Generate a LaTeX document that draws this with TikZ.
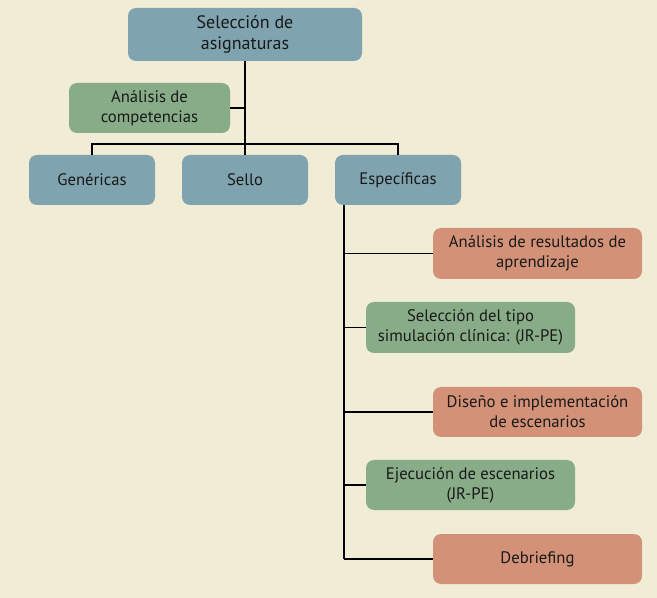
\documentclass[tikz,border=0pt]{standalone}
\usepackage{fontspec}
\setmainfont{PT Sans}
\usetikzlibrary{positioning}
\definecolor{fondo}{HTML}{F1ECD5}
\definecolor{azul}{HTML}{7FA3AF}
\definecolor{verde}{HTML}{88AC87}
\definecolor{salmon}{HTML}{D39277}
\tikzset{
    caja/.style = {rectangle, rounded corners=6pt, draw=none, align=center, inner sep=0pt,
                   text=black!90, font=\fontsize{12.5}{15}\selectfont},
    tam/.style 2 args = {minimum width=#1*0.75pt, minimum height=#2*0.75pt},
    cajaa/.style = {caja, fill=azul},
    cajav/.style = {caja, fill=verde},
    cajas/.style = {caja, fill=salmon},
    linea/.style = {-,line width=0.8pt,black},
}
\begin{document}
\begin{tikzpicture}[x=0.75pt,y=-0.75pt]
%
\fill[fondo] (0,0) rectangle (657,598);
\useasboundingbox (0,0) rectangle (657,598);
%
\node[cajaa, tam={234}{53}, font=\fontsize{13.5}{16}\selectfont] at (245,34.5) (sel) {Selección de\\asignaturas};
\node[cajav, tam={161}{50}] at (149.5,108) (comp) {Análisis de\\competencias};
\node[cajaa, tam={126}{50}] at (92,180) (gen) {Genéricas};
\node[cajaa, tam={126}{50}] at (245,180) (sello) {Sello};
\node[cajaa, tam={126}{50}] at (398,180) (esp) {Específicas};
\node[cajas, tam={209}{51}] at (537.5,253.5) (res) {Análisis de resultados de\\aprendizaje};
\node[cajav, tam={209}{51}] at (470.5,327.5) (tipo) {Selección del tipo\\simulación clínica: (JR-PE)};
\node[cajas, tam={209}{50}] at (537.5,412) (dis) {Diseño e implementación\\de escenarios};
\node[cajav, tam={209}{50}] at (470.5,485) (eje) {Ejecución de escenarios\\(JR-PE)};
\node[cajas, tam={209}{50}] at (537.5,559) (deb) {Debriefing};
\coordinate (bus) at (245,144);
\coordinate (eje0) at (344,559);
%
\draw[linea] (sel) -- (sello);
\draw[linea] (comp.east) -- (comp.east -| sel.south);
\draw[linea] (gen) |- (bus) -| (esp);
\draw[linea] (esp.south -| eje0) -- (eje0);
\draw[linea] (res.west) -- (res.west -| eje0);
\draw[linea] (tipo.west) -- (tipo.west -| eje0);
\draw[linea] (dis.west) -- (dis.west -| eje0);
\draw[linea] (eje.west) -- (eje.west -| eje0);
\draw[linea] (deb.west) -- (eje0);
\end{tikzpicture}
\end{document}
